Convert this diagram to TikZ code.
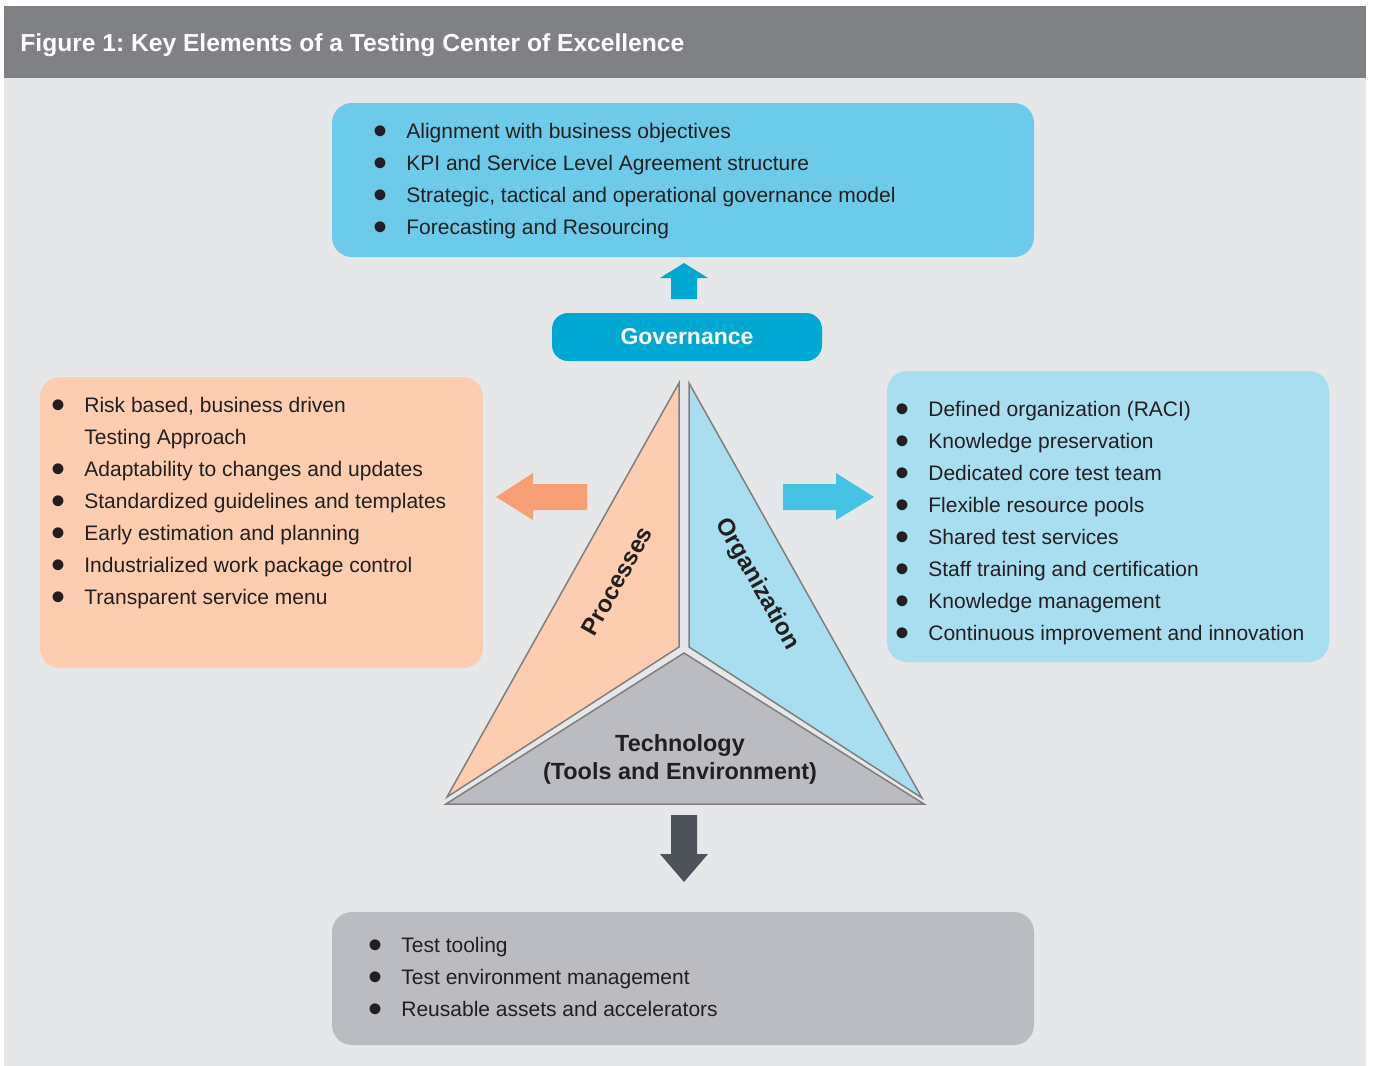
\documentclass[tikz,border=0pt]{standalone}
\usepackage{fontspec}
\setmainfont{Liberation Sans}
\usetikzlibrary{positioning}
\frenchspacing

\definecolor{titlegray}{HTML}{808185}
\definecolor{panelgray}{HTML}{E6E7E8}
\definecolor{govblue}{HTML}{00A8D4}
\definecolor{topblue}{HTML}{6DCAE8}
\definecolor{orgblue}{HTML}{A8DEF0}
\definecolor{procpeach}{HTML}{FCCDB0}
\definecolor{techgray}{HTML}{BBBCC1}
\definecolor{arrowsalmon}{HTML}{F69F76}
\definecolor{arrowcyan}{HTML}{46C3E4}
\definecolor{arrowdark}{HTML}{4D525B}
\definecolor{edgegray}{HTML}{7F7F7F}
\definecolor{textdark}{HTML}{231F20}

% big list bullet
\newcommand{\blt}{\hspace*{-3.5pt}\raisebox{-3.2pt}{\scalebox{1.9}{\textbullet}}}

\begin{document}
\begin{tikzpicture}[x=0.5pt, y=-0.5pt]
	% Define styles
	\tikzset{
		box/.style={rectangle, rounded corners=10pt, inner sep=0pt, outer sep=0pt},
		bullets/.style={anchor=north west, inner sep=0pt, align=left, text=textdark, font=\fontsize{10.5}{16}\selectfont},
		piece/.style={draw=edgegray, line width=0.75pt, line join=miter},
		pillar/.style={text=textdark, inner sep=0pt, align=center, font=\fontsize{12}{14}\selectfont\bfseries}
	}
	
	% Canvas
	\useasboundingbox (0,0) rectangle (1373,1066);
	\fill[white] (0,0) rectangle (1373,1066);
	\fill[titlegray] (4,6) rectangle (1366,78);
	\fill[panelgray] (4,78) rectangle (1366,1066);
	\node[anchor=west, inner sep=0pt, text=white, font=\fontsize{12.3}{14}\selectfont\bfseries] (title) at (20,45) {Figure 1: Key Elements of a Testing Center of Excellence};
	
	% Boxes
	\node[box, fill=topblue, minimum width=351pt, minimum height=77pt] (govbox) at (683,180) {};
	\node[box, fill=procpeach, minimum width=221.5pt, minimum height=145.5pt] (procbox) at (261.5,522.5) {};
	\node[box, fill=orgblue, minimum width=221pt, minimum height=145.5pt] (orgbox) at (1108,516.5) {};
	\node[box, fill=techgray, minimum width=351pt, minimum height=66.5pt] (techbox) at (683,978.5) {};
	
	% Lists
	\node[bullets] (govlist) at (380,115.6) {%
		\begin{tabular}{@{}p{13pt}@{}l@{}}
			\blt & Alignment with business objectives\\
			\blt & KPI and Service Level Agreement structure\\
			\blt & Strategic, tactical and operational governance model\\
			\blt & Forecasting and Resourcing
		\end{tabular}};
	\node[bullets] (proclist) at (58,389.6) {%
		\begin{tabular}{@{}p{13pt}@{}l@{}}
			\blt & Risk based, business driven\\
			     & Testing Approach\\
			\blt & Adaptability to changes and updates\\
			\blt & Standardized guidelines and templates\\
			\blt & Early estimation and planning\\
			\blt & Industrialized work package control\\
			\blt & Transparent service menu
		\end{tabular}};
	\node[bullets] (orglist) at (902,393.6) {%
		\begin{tabular}{@{}p{13pt}@{}l@{}}
			\blt & Defined organization (RACI)\\
			\blt & Knowledge preservation\\
			\blt & Dedicated core test team\\
			\blt & Flexible resource pools\\
			\blt & Shared test services\\
			\blt & Staff training and certification\\
			\blt & Knowledge management\\
			\blt & Continuous improvement and innovation
		\end{tabular}};
	\node[bullets] (techlist) at (375,929.6) {%
		\begin{tabular}{@{}p{13pt}@{}l@{}}
			\blt & Test tooling\\
			\blt & Test environment management\\
			\blt & Reusable assets and accelerators
		\end{tabular}};
	
	% Governance
	\node[rectangle, rounded corners=8pt, fill=govblue, text=white, minimum width=135pt, minimum height=24pt, font=\fontsize{11.5}{14}\selectfont\bfseries] (gov) at (687,337) {Governance};
	
	% Triangle pieces
	\filldraw[piece, fill=procpeach] (679,383) -- (679,647) -- (447,797) -- cycle;
	\filldraw[piece, fill=orgblue] (689,383) -- (689,647) -- (922,798) -- cycle;
	\filldraw[piece, fill=techgray] (684,653) -- (924,804) -- (446,804) -- cycle;
	
	\node[pillar, rotate=60.7] (proc) at (617,581) {Processes};
	\node[pillar, rotate=-60.7] (org) at (757,584) {Organization};
	\node[pillar, font=\fontsize{11.7}{14}\selectfont\bfseries] (tech) at (680,759) {Technology\\(Tools and Environment)};
	
	% Arrows
	\fill[govblue] (671,299) -- (671,278) -- (660,278) -- (684,263) -- (708,278) -- (697,278) -- (697,299) -- cycle;
	\fill[arrowsalmon] (587,484) -- (533,484) -- (533,473) -- (496,497) -- (533,520) -- (533,510) -- (587,510) -- cycle;
	\fill[arrowcyan] (783,484) -- (836,484) -- (836,473) -- (874,497) -- (836,520) -- (836,510) -- (783,510) -- cycle;
	\fill[arrowdark] (671,815) -- (697,815) -- (697,854) -- (708,854) -- (684,882) -- (660,854) -- (671,854) -- cycle;
	
\end{tikzpicture}
\end{document}
